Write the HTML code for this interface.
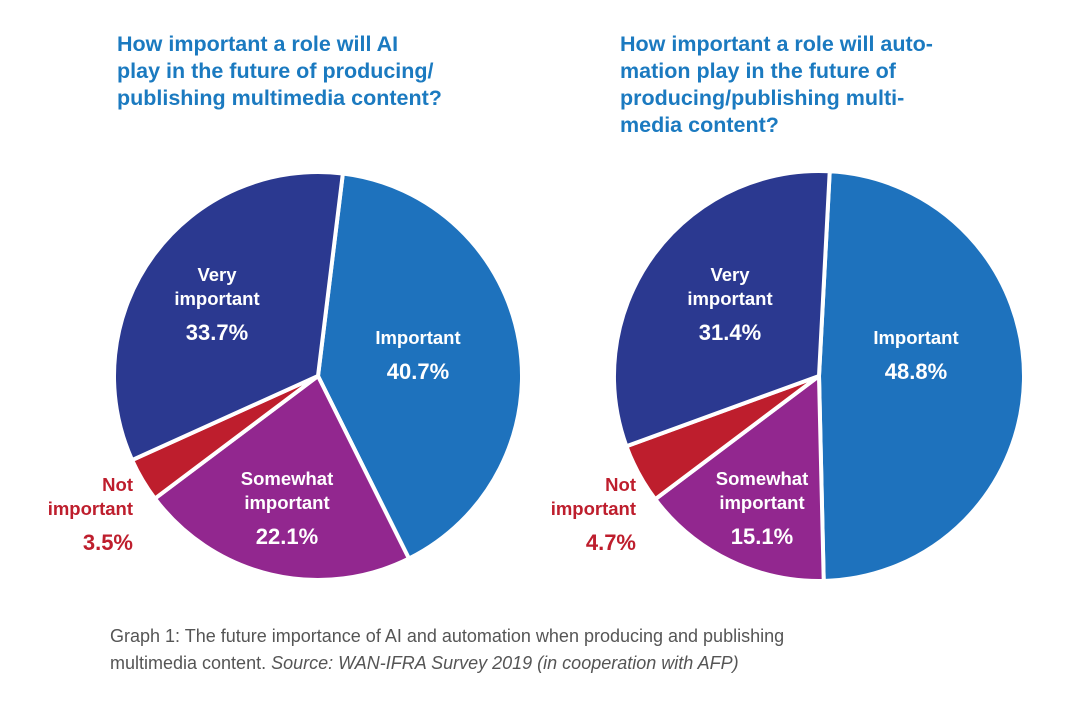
<!DOCTYPE html>
<html><head><meta charset="utf-8"><style>
body{margin:0;background:#fff;width:1073px;height:717px;overflow:hidden;font-family:"Liberation Sans",sans-serif}
.t{position:absolute;color:#1b7ac0;font-weight:bold;font-size:21.5px;line-height:27px}
.cap{position:absolute;left:110px;top:623px;color:#555;font-size:18px;line-height:27px}
</style></head><body>
<div class="t" style="left:117px;top:31px">How important a role will AI<br>play in the future of producing/<br>publishing multimedia content?</div>
<div class="t" style="left:620px;top:31px">How important a role will auto-<br>mation play in the future of<br>producing/publishing multi-<br>media content?</div>
<svg id="s" width="1073" height="717" style="position:absolute;left:0;top:0"></svg>
<div class="cap">Graph 1: The future importance of AI and automation when producing and publishing<br>multimedia content. <i>Source: WAN-IFRA Survey 2019 (in cooperation with AFP)</i></div>
<script>
const categories=["Important","Somewhat important","Not important","Very important"];
const aiValues=[40.7,22.1,3.5,33.7];
const autoValues=[48.8,15.1,4.7,31.4];
const colors=["#1e72bd","#92278f","#be1e2d","#2b3990"];
const NS="http://www.w3.org/2000/svg";
const svg=document.getElementById('s');
function mk(t,a){const e=document.createElementNS(NS,t);for(const k in a)e.setAttribute(k,a[k]);svg.appendChild(e);return e;}
function pie(cx,cy,r,vals,start,labels,prefix){
  const tot=vals.reduce((a,b)=>a+b,0);let a0=start;
  vals.forEach((v,i)=>{
    const a1=a0+v/tot*360;
    const p=a=>[cx+r*Math.sin(a*Math.PI/180),cy-r*Math.cos(a*Math.PI/180)];
    const [x0,y0]=p(a0),[x1,y1]=p(a1);
    const el=mk('path',{d:`M${cx},${cy}L${x0},${y0}A${r},${r} 0 ${a1-a0>180?1:0} 1 ${x1},${y1}Z`,fill:colors[i],stroke:'#fff','stroke-width':4,'stroke-linejoin':'round'});
    
    
    a0=a1;
  });
  labels.forEach((L,i)=>{
    const g=mk('text',{x:L[0],y:L[1],'text-anchor':L[2],fill:i==2?'#be1e2d':'#fff','font-weight':'bold','font-size':'18.5px','font-family':'Liberation Sans, sans-serif'});
    
    
    const lines=L[3].concat([vals[i].toFixed(1)+'%']);
    lines.forEach((s,j)=>{const t=document.createElementNS(NS,'tspan');t.setAttribute('x',L[0]);t.setAttribute('dy',j==0?0:(j==lines.length-1?35:24));if(j==lines.length-1)t.setAttribute('font-size','22px');t.textContent=s;g.appendChild(t);});
  });
}
pie(318,376,204,aiValues,7,[[418,344,'middle',['Important']],[287,485,'middle',['Somewhat','important']],[133,491,'end',['Not','important']],[217,281,'middle',['Very','important']]],'ai');
pie(819,376,205,autoValues,3,[[916,344,'middle',['Important']],[762,485,'middle',['Somewhat','important']],[636,491,'end',['Not','important']],[730,281,'middle',['Very','important']]],'automation');
</script>
</body></html>
